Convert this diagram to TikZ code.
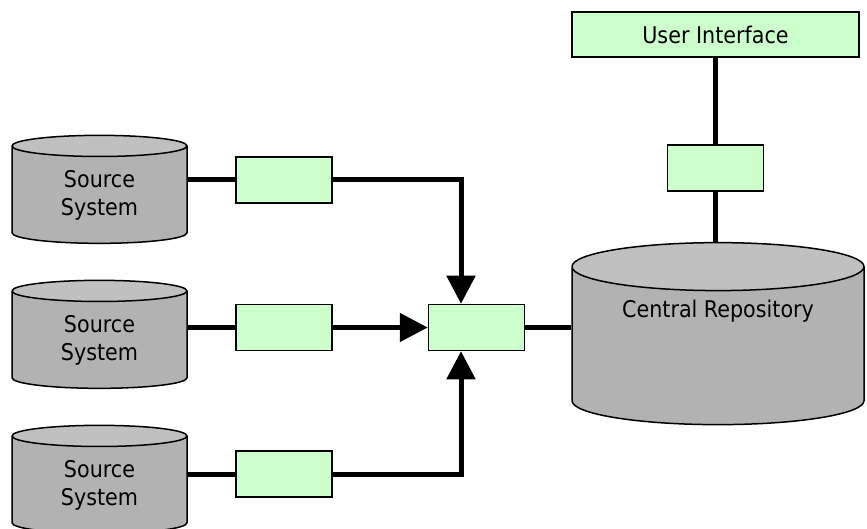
\documentclass[tikz,border=0pt]{standalone}
\usepackage{fontspec}
\setmainfont{DejaVu Sans Condensed}
\usetikzlibrary{arrows.meta,positioning,shapes.geometric}
\definecolor{boxgreen}{RGB}{204,255,204}
\definecolor{dbtop}{RGB}{192,192,192}
\definecolor{dbbody}{RGB}{178,178,178}

\begin{document}
\begin{tikzpicture}[x=1pt, y=-1pt,
    every node/.style={font=\fontsize{23}{28}\selectfont},
    database/.style={cylinder, shape border rotate=90, draw, line width=1.5pt, cylinder uses custom fill, cylinder body fill=dbbody, cylinder end fill=dbtop, inner sep=0pt, align=center},
    filter/.style={draw, line width=1.5pt, fill=boxgreen, minimum width=96pt, minimum height=46pt, inner sep=0pt},
    link/.style={line width=5pt},
    feed/.style={link, -{Triangle[length=28pt, width=28pt]}}
  ]
  \useasboundingbox (0,0) rectangle (867,529);
  \begin{scope}[every node/.append style={database, minimum width=175pt, minimum height=108pt, aspect=0.274}]
  \node (src1) at (99.5,195) {Source\\System};
  \node (src2) at (99.5,340) {Source\\System};
  \node (src3) at (99.5,485) {Source\\System};
  \end{scope}
  \node [database, minimum width=292pt, minimum height=182pt, aspect=0.25] (repo) at (718,346) {Central Repository\\[46pt]\mbox{}};

  \begin{scope}[every node/.append style={filter}]
  \node (f1) at (284,180) {};
  \node [below=100pt of f1] (f2) {};
  \node [below=99pt of f2] (f3) {};
  \node [right=95pt of f2] (hub) {};
  \node (gate) at (715.5,168) {};
  \node [minimum width=287pt, minimum height=45pt] (ui) at (715.5,34.5) {User Interface};
  \end{scope}

  \draw [link] (src1.east |- f1) -- (f1);
  \draw [link] (src2.east |- f2) -- (f2);
  \draw [link] (src3.east |- f3) -- (f3);
  \draw [feed] (f1) -| ([xshift=-15.5pt]hub.north);
  \draw [feed] (f2) -- (hub);
  \draw [feed] (f3) -| ([xshift=-15.5pt]hub.south);
  \draw [link] (hub) -- (hub -| repo.west);
  \draw [link] (ui) -- (gate);
  \draw [link] (gate) -- (gate |- repo.north);
\end{tikzpicture}
\end{document}
